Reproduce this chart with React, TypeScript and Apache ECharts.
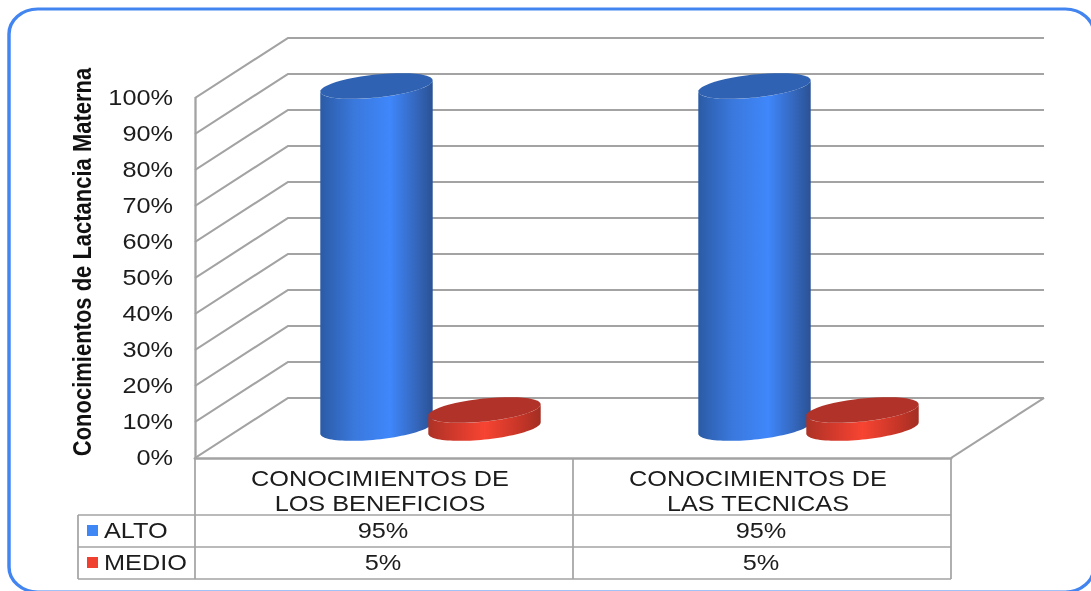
import React, { useEffect, useRef } from "react";
import * as echarts from "echarts";

const categories = ["CONOCIMIENTOS DE\nLOS BENEFICIOS", "CONOCIMIENTOS DE\nLAS TECNICAS"];
const altoValues = [95, 95];
const medioValues = [5, 5];
const seriesNames = ["ALTO", "MEDIO"];
const axisTitle = "Conocimientos de Lactancia Materna";
const wallTicks = [0, 10, 20, 30, 40, 50, 60, 70, 80, 90, 100];

const FONT = "'Liberation Sans', Arial, sans-serif";
// The reference is a picture stretched sideways, so the chart is laid out narrower and widened as a whole.
const S = 1.15;
const sx = (x: number) => x / S;
const DEPTH_X = 93;
const DEPTH_Y = 60;
const GRID = { left: 195, top: 98, width: 756, height: 360 };
const LINE = "#a3a3a3";
const TEXT = "#1c1c1c";

function ellipsePoint(cx: number, cy: number, a: number, b: number, th: number, t: number) {
  const x = a * Math.cos(t);
  const y = b * Math.sin(t);
  return [cx + x * Math.cos(th) - y * Math.sin(th), cy + x * Math.sin(th) + y * Math.cos(th)];
}

function ellipseArc(cx: number, cy: number, a: number, b: number, th: number, t0: number, t1: number) {
  const pts: number[][] = [];
  const n = 48;
  for (let i = 0; i <= n; i++) {
    const p = ellipsePoint(cx, cy, a, b, th, t0 + ((t1 - t0) * i) / n);
    pts.push([sx(p[0]), p[1]]);
  }
  return pts;
}

function cylinderRenderer(side: number, stops: [number, string][], topColor: string) {
  return (params: any, api: any) => {
    const idx = api.value(0);
    const base = api.coord([idx, 0]);
    const top = api.coord([idx, api.value(1)]);
    const cx = base[0] * S + DEPTH_X / 2 + side * 54;
    const by = base[1] - DEPTH_Y / 2;
    const ty = top[1] - DEPTH_Y / 2;
    const a = 56.5;
    const b = 11.5;
    const th = (-6 * Math.PI) / 180;
    const tRight = Math.atan2(-b * Math.sin(th), a * Math.cos(th));
    const lower = ellipseArc(cx, by, a, b, th, tRight, tRight + Math.PI);
    const upper = ellipseArc(cx, ty, a, b, th, tRight + Math.PI, tRight);
    return {
      type: "group",
      children: [
        {
          type: "polygon",
          shape: { points: [...lower, ...upper] },
          style: {
            fill: new echarts.graphic.LinearGradient(
              0, 0, 1, 0,
              stops.map(([offset, color]) => ({ offset, color }))
            ),
          },
        },
        {
          type: "polygon",
          shape: { points: ellipseArc(cx, ty, a, b, th, 0, Math.PI * 2) },
          style: { fill: topColor },
        },
      ],
    };
  };
}

function wallRenderer(params: any, api: any) {
  const p = api.coord([0, api.value(0)]);
  const left = params.coordSys.x;
  const right = left + params.coordSys.width;
  const y = p[1];
  return {
    type: "polyline",
    shape: {
      points: [
        [left, y],
        [left + sx(DEPTH_X), y - DEPTH_Y],
        [right + sx(DEPTH_X), y - DEPTH_Y],
      ],
    },
    style: { stroke: LINE, lineWidth: 2, fill: "none" },
  };
}

const fmt = (v: number) => `${v}%`;
const plainCats = categories.map((c, i) => i);

export default function App() {
  const ref = useRef<HTMLDivElement>(null);
  useEffect(() => {
    const chart = echarts.init(ref.current!, null, { renderer: "svg" });
    const g = GRID;
    const right = g.left + g.width;
    const bottom = g.top + g.height;
    const colW = g.width / categories.length;
    const rows = [515, 547, 579];
    const tableLine = (x1: number, y1: number, x2: number, y2: number, w = 1.5) => ({
      type: "line",
      shape: { x1: sx(x1), y1, x2: sx(x2), y2 },
      style: { stroke: LINE, lineWidth: w },
      z: 5,
    });
    const cell = (text: string, x: number, y: number, align = "center") => ({
      type: "text",
      x: sx(x),
      y,
      style: { text, fill: TEXT, font: `22px ${FONT}`, align, verticalAlign: "middle" },
      z: 6,
    });
    const graphics: any[] = [
      {
        type: "rect",
        shape: { x: sx(9), y: 9, width: sx(1085), height: 583, r: 25 },
        style: { fill: "#ffffff", stroke: "#4285f0", lineWidth: 3 },
        z: -10,
      },
      {
        type: "text",
        x: sx(82),
        y: 262,
        rotation: Math.PI / 2,
        style: { text: axisTitle, fill: "#111111", font: `bold 22px ${FONT}`, align: "center", verticalAlign: "middle" },
        z: 6,
      },
      tableLine(right, bottom, right + DEPTH_X, bottom - DEPTH_Y, 2),
      ...rows.map((y) => tableLine(78, y, right, y)),
      tableLine(78, rows[0], 78, rows[2]),
      ...[0, 1, 2].map((i) => tableLine(g.left + i * colW, bottom, g.left + i * colW, rows[2])),
      { type: "rect", shape: { x: sx(87), y: 525, width: sx(11), height: 11 }, style: { fill: "#3f87f5" }, z: 6 },
      { type: "rect", shape: { x: sx(87), y: 557, width: sx(11), height: 11 }, style: { fill: "#f04030" }, z: 6 },
      cell(seriesNames[0], 104, 531, "left"),
      cell(seriesNames[1], 104, 563, "left"),
      ...altoValues.map((v, i) => cell(fmt(v), g.left + (i + 0.5) * colW - 1, 531)),
      ...medioValues.map((v, i) => cell(fmt(v), g.left + (i + 0.5) * colW - 1, 563)),
    ];

    chart.setOption({
      animation: false,
      backgroundColor: "#ffffff",
      grid: { left: sx(g.left), top: g.top, width: sx(g.width), height: g.height },
      xAxis: {
        type: "category",
        data: categories,
        axisTick: { show: false },
        axisLine: { show: true, lineStyle: { color: LINE, width: 2.5 } },
        axisLabel: {
          color: TEXT,
          fontFamily: FONT,
          fontSize: 22,
          lineHeight: 25,
          margin: 8,
          padding: [0, 7, 0, 0],
          interval: 0,
        },
      },
      yAxis: {
        type: "value",
        min: 0,
        max: 100,
        interval: 10,
        splitLine: { show: false },
        axisTick: { show: false },
        axisLine: { show: true, lineStyle: { color: LINE, width: 2 } },
        axisLabel: { color: TEXT, fontFamily: FONT, fontSize: 22, margin: sx(22), formatter: (v: number) => fmt(v) },
      },
      graphic: graphics,
      series: [
        {
          type: "custom",
          name: "walls",
          silent: true,
          renderItem: wallRenderer,
          data: wallTicks.map((t) => [t]),
          encode: { y: 0 },
          z: 1,
        },
        {
          type: "custom",
          name: seriesNames[0],
          renderItem: cylinderRenderer(
            -1,
            [[0, "#2b5ba6"], [0.3, "#3a78dc"], [0.62, "#3f87fb"], [0.85, "#3567bd"], [1, "#2a5295"]],
            "#2f62b2"
          ),
          data: altoValues.map((v, i) => [plainCats[i], v]),
          encode: { x: 0, y: 1 },
          z: 2,
        },
        {
          type: "custom",
          name: seriesNames[1],
          renderItem: cylinderRenderer(
            1,
            [[0, "#ad3226"], [0.25, "#d33a2c"], [0.5, "#f84432"], [0.8, "#c83628"], [1, "#a32e23"]],
            "#b03228"
          ),
          data: medioValues.map((v, i) => [plainCats[i], v]),
          encode: { x: 0, y: 1 },
          z: 3,
        },
      ],
    });
    return () => chart.dispose();
  }, []);
  return (
    <div style={{ position: "absolute", left: 0, top: 0, width: 1091, height: 591, overflow: "hidden" }}>
      <div
        ref={ref}
        style={{
          width: 1091 / S,
          height: 591,
          transform: `scaleX(${S})`,
          transformOrigin: "0 0",
          filter: "blur(0.4px)",
        }}
      />
    </div>
  );
}
